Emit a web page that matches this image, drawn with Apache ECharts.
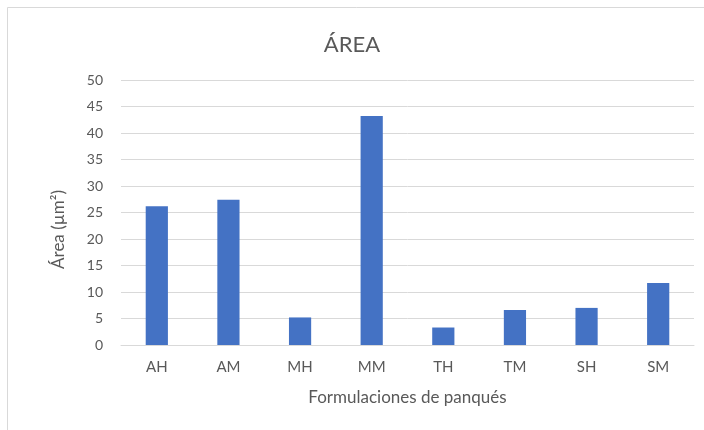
<!DOCTYPE html>
<html>
<head>
<meta charset="utf-8">
<script src="https://cdn.jsdelivr.net/npm/echarts@6/dist/echarts.min.js"></script>
<style>
  html, body { margin: 0; padding: 0; background: #fff; }
  #chart { width: 704px; height: 430px; }
</style>
</head>
<body>
<div id="chart"></div>
<script>
// Formulaciones y área medida (µm²)
const categories = ['AH', 'AM', 'MH', 'MM', 'TH', 'TM', 'SH', 'SM'];
const areaValues = [26.2, 27.4, 5.2, 43.2, 3.3, 6.6, 7.0, 11.7];
const yTicks = { min: 0, max: 50, interval: 5 };

const textColor = '#595959';
const fontFamily = 'Lato, "Open Sans", sans-serif';

const chart = echarts.init(document.getElementById('chart'));
chart.setOption({
  animation: false,
  backgroundColor: '#ffffff',
  graphic: [{
    type: 'rect',
    silent: true,
    shape: { x: 7.5, y: 7.5, width: 720, height: 440 },
    style: { fill: 'none', stroke: '#d9d9d9', lineWidth: 1 }
  }],
  title: {
    text: 'ÁREA',
    left: 'center',
    top: 29,
    textStyle: { color: textColor, fontFamily, fontSize: 22, fontWeight: 'normal' }
  },
  grid: { left: 121, right: 10, top: 80, bottom: 85, containLabel: false },
  xAxis: {
    type: 'category',
    data: categories,
    name: 'Formulaciones de panqués',
    nameLocation: 'middle',
    nameGap: 44,
    nameTextStyle: { color: textColor, fontFamily, fontSize: 17 },
    axisLine: { lineStyle: { color: '#d9d9d9' } },
    axisTick: { show: false },
    axisLabel: { color: textColor, fontFamily, fontSize: 15, margin: 15 },
  },
  yAxis: {
    type: 'value',
    min: yTicks.min,
    max: yTicks.max,
    interval: yTicks.interval,
    name: 'Área (µm²)',
    nameLocation: 'middle',
    nameGap: 54,
    nameTextStyle: { color: textColor, fontFamily, fontSize: 17, padding: [0, 34, 0, 0] },
    axisLine: { show: false },
    axisTick: { show: false },
    axisLabel: { color: textColor, fontFamily, fontSize: 14, margin: 18 },
    splitLine: { lineStyle: { color: '#d9d9d9', width: 1 } }
  },
  series: [{
    type: 'bar',
    data: areaValues,
    barWidth: '31%',
    itemStyle: { color: '#4472c4' }
  }]
});
</script>
</body>
</html>
